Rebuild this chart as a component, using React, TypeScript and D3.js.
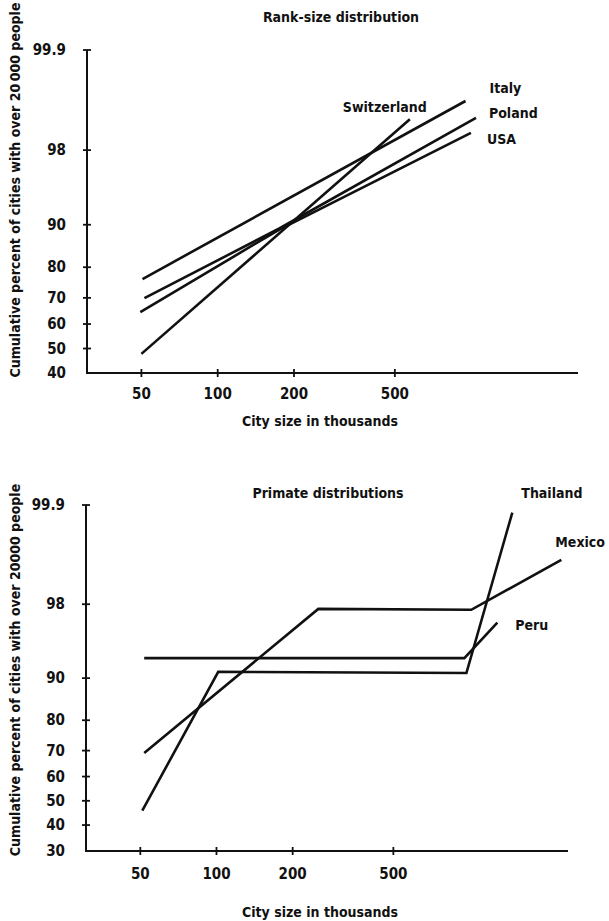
import React from 'react';
import * as d3 from 'd3';

// ---------- data ----------
const sizeTicks = [50, 100, 200, 500];
const rankPctTicks = [40, 50, 60, 70, 80, 90, 98, 99.9];
const primatePctTicks = [30, 40, 50, 60, 70, 80, 90, 98, 99.9];

const italySize = [50.5, 950];
const italyPct = [76.4, 99.48];
const polandSize = [51.4, 175, 1045];
const polandPct = [69.9, 89.3, 99.15];
const usaSize = [49.5, 175, 998];
const usaPct = [64.7, 89.1, 98.72];
const switzerlandSize = [50, 573];
const switzerlandPct = [47.8, 99.12];

const thailandSize = [50.9, 101.6, 972, 1476];
const thailandPct = [45.9, 91.1, 90.9, 99.87];
const mexicoSize = [51.8, 252.6, 1016, 2306];
const mexicoPct = [69.1, 97.75, 97.7, 99.41];
const peruSize = [51.8, 954, 1288];
const peruPct = [93.2, 93.2, 96.86];

// ---------- helpers ----------
function probit(p: number): number {
  const a = [-3.969683028665376e1, 2.209460984245205e2, -2.759285104469687e2, 1.38357751867269e2, -3.066479806614716e1, 2.506628277459239];
  const b = [-5.447609879822406e1, 1.615858368580409e2, -1.556989798598866e2, 6.680131188771972e1, -1.328068155288572e1];
  const c = [-7.784894002430293e-3, -3.223964580411365e-1, -2.400758277161838, -2.549671010114024, 4.374664141464968, 2.938163982698783];
  const d = [7.784695709041462e-3, 3.224671290700398e-1, 2.445134137142996, 3.754408661907416];
  const pl = 0.02425;
  let q: number, r: number;
  if (p < pl) {
    q = Math.sqrt(-2 * Math.log(p));
    return (((((c[0] * q + c[1]) * q + c[2]) * q + c[3]) * q + c[4]) * q + c[5]) / ((((d[0] * q + d[1]) * q + d[2]) * q + d[3]) * q + 1);
  }
  if (p <= 1 - pl) {
    q = p - 0.5;
    r = q * q;
    return ((((((a[0] * r + a[1]) * r + a[2]) * r + a[3]) * r + a[4]) * r + a[5]) * q) / (((((b[0] * r + b[1]) * r + b[2]) * r + b[3]) * r + b[4]) * r + 1);
  }
  q = Math.sqrt(-2 * Math.log(1 - p));
  return -(((((c[0] * q + c[1]) * q + c[2]) * q + c[3]) * q + c[4]) * q + c[5]) / ((((d[0] * q + d[1]) * q + d[2]) * q + d[3]) * q + 1);
}

const FONT = "'DejaVu Sans Condensed', sans-serif";
const LABEL_SIZE = 14;
const TICK_SIZE = 15;

type Series = { name: string; size: number[]; pct: number[]; dx: number; dy: number };

type PanelProps = {
  title: string;
  titleX: number;
  titleY: number;
  yLabel: string;
  yLabelCenter: number;
  pctTicks: number[];
  xDomain: [number, number];
  xRange: [number, number];
  yTop: number;
  yBottom: number;
  series: Series[];
  tickLabelY: number;
  xTitleY: number;
};

function Panel(p: PanelProps) {
  const x = d3.scaleLog().domain(p.xDomain).range(p.xRange);
  const pMin = p.pctTicks[0];
  const pMax = p.pctTicks[p.pctTicks.length - 1];
  const y = d3
    .scaleLinear()
    .domain([probit(pMin / 100), probit(pMax / 100)])
    .range([p.yBottom, p.yTop]);
  const yp = (v: number) => y(probit(v / 100));
  const line = d3
    .line<[number, number]>()
    .x((d) => x(d[0]))
    .y((d) => yp(d[1]));
  const ax = p.xRange[0];
  const ay = p.yBottom;
  return (
    <g fontFamily={FONT} fontWeight="bold" fill="#111">
      <text x={p.titleX} y={p.titleY} textAnchor="middle" fontSize={LABEL_SIZE} dominantBaseline="central">
        {p.title}
      </text>
      <text
        transform={`translate(15,${p.yLabelCenter}) rotate(-90)`}
        textAnchor="middle"
        dominantBaseline="central"
        fontSize={LABEL_SIZE}
      >
        {p.yLabel}
      </text>
      {/* axes */}
      <line x1={ax} x2={ax} y1={p.yTop} y2={ay} stroke="#111" strokeWidth={2} />
      <line x1={ax - 1} x2={p.xRange[1]} y1={ay} y2={ay} stroke="#111" strokeWidth={2} />
      {p.pctTicks.map((t, i) => (
        <g key={'yt' + t}>
          {i > 0 && <line x1={ax - 4} x2={ax + 4} y1={yp(t)} y2={yp(t)} stroke="#111" strokeWidth={1.8} />}
          <text x={ax - 21} y={yp(t)} textAnchor="end" dominantBaseline="central" fontSize={TICK_SIZE}>
            {String(t)}
          </text>
        </g>
      ))}
      {sizeTicks.map((t) => (
        <g key={'xt' + t}>
          <line x1={x(t)} x2={x(t)} y1={ay - 4} y2={ay + 4} stroke="#111" strokeWidth={1.8} />
          <text x={x(t)} y={p.tickLabelY} textAnchor="middle" dominantBaseline="central" fontSize={TICK_SIZE}>
            {String(t)}
          </text>
        </g>
      ))}
      <text x={320} y={p.xTitleY} textAnchor="middle" dominantBaseline="central" fontSize={LABEL_SIZE}>
        City size in thousands
      </text>
      {p.series.map((s) => {
        const pts = s.size.map((v, i) => [v, s.pct[i]] as [number, number]);
        const last = pts[pts.length - 1];
        return (
          <g key={s.name}>
            <path d={line(pts) || ''} fill="none" stroke="#111" strokeWidth={2.6} strokeLinejoin="miter" />
            <text
              x={x(last[0]) + s.dx}
              y={yp(last[1]) + s.dy}
              dominantBaseline="central"
              fontSize={LABEL_SIZE}
            >
              {s.name}
            </text>
          </g>
        );
      })}
    </g>
  );
}

export default function App() {
  const rankSeries: Series[] = [
    { name: 'Italy', size: italySize, pct: italyPct, dx: 24, dy: -13 },
    { name: 'Poland', size: polandSize, pct: polandPct, dx: 13, dy: -5 },
    { name: 'USA', size: usaSize, pct: usaPct, dx: 16, dy: 6 },
    { name: 'Switzerland', size: switzerlandSize, pct: switzerlandPct, dx: -67, dy: -12 },
  ];
  const primateSeries: Series[] = [
    { name: 'Thailand', size: thailandSize, pct: thailandPct, dx: 9, dy: -20 },
    { name: 'Mexico', size: mexicoSize, pct: mexicoPct, dx: -6, dy: -18 },
    { name: 'Peru', size: peruSize, pct: peruPct, dx: 18, dy: 2 },
  ];
  return (
    <svg width={609} height={921} style={{ position: 'absolute', left: 0, top: 0, background: '#fff' }}>
      <rect width={609} height={921} fill="#fff" />
      <Panel
        title="Rank-size distribution"
        titleX={341}
        titleY={17}
        yLabel={'Cumulative percent of cities with over 20\u2009000 people'}
        yLabelCenter={190}
        pctTicks={rankPctTicks}
        xDomain={[30.5, 2640]}
        xRange={[87, 578]}
        yTop={50}
        yBottom={373}
        series={rankSeries}
        tickLabelY={394}
        xTitleY={421}
      />
      <Panel
        title="Primate distributions"
        titleX={328}
        titleY={493}
        yLabel="Cumulative percent of cities with over 20000 people"
        yLabelCenter={670}
        pctTicks={primatePctTicks}
        xDomain={[30.5, 2450]}
        xRange={[86, 568]}
        yTop={505}
        yBottom={851}
        series={primateSeries}
        tickLabelY={874}
        xTitleY={912}
      />
    </svg>
  );
}
